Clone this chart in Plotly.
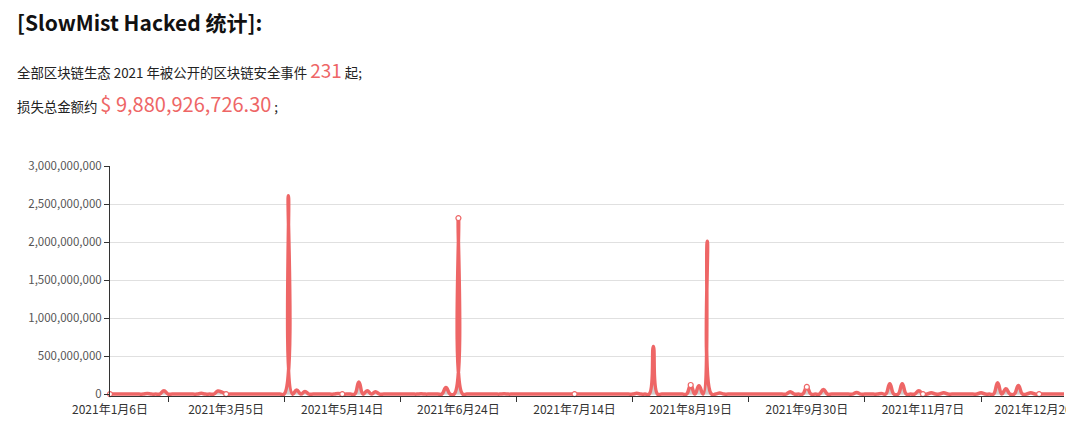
import plotly.graph_objects as go

# ---------------- data ----------------
# Loss per publicly disclosed event, in millions of USD, in event order (231 events)
loss_musd = [
    0, 0, 0, 0, 0, 0, 0, 0, 0, 8, 0, 0, 0, 45,
    0, 0, 0, 0, 0, 0, 0, 0, 10, 0, 0, 0, 40, 25,
    0, 0, 0, 0, 0, 0, 0, 0, 0, 0, 0, 0, 0, 0,
    0, 2610, 0, 55, 0, 35, 0, 0, 0, 0, 0, 0, 0, 8,
    0, 0, 0, 0, 160, 0, 45, 0, 30, 0, 0, 0, 0, 0,
    0, 0, 0, 0, 0, 5, 0, 0, 0, 0, 0, 87, 0, 0,
    2315, 0, 0, 0, 0, 0, 0, 0, 0, 0, 0, 5, 0, 0,
    0, 0, 0, 0, 0, 0, 0, 0, 0, 0, 0, 0, 0, 0,
    0, 0, 0, 0, 0, 0, 0, 0, 0, 0, 0, 0, 0, 0,
    0, 10, 0, 0, 0, 625, 0, 0, 0, 0, 0, 0, 0, 0,
    120, 0, 110, 0, 2010, 0, 0, 15, 0, 0, 0, 0, 0, 0,
    0, 0, 0, 0, 0, 0, 0, 0, 0, 0, 30, 0, 0, 0,
    95, 0, 0, 0, 60, 0, 0, 0, 0, 0, 0, 0, 20, 0,
    0, 0, 0, 0, 8, 0, 135, 0, 0, 135, 0, 0, 0, 45,
    0, 0, 18, 0, 0, 18, 0, 0, 0, 0, 0, 0, 0, 0,
    18, 0, 0, 0, 150, 0, 70, 0, 0, 113, 0, 0, 18, 0,
    0, 0, 0, 0, 0, 0, 0,
]
# Category positions that carry an axis label (every 28th event)
label_index = [0, 28, 56, 84, 112, 140, 168, 196, 224]
label_dates = ["2021年1月6日", "2021年3月5日", "2021年5月14日", "2021年6月24日",
               "2021年7月14日", "2021年8月19日", "2021年9月30日", "2021年11月7日",
               "2021年12月20日"]
tick_between = [14, 42, 70, 98, 126, 154, 182, 210]
y_ticks = [0, 500_000_000, 1_000_000_000, 1_500_000_000,
           2_000_000_000, 2_500_000_000, 3_000_000_000]

event_count = "231"
total_loss = "$ 9,880,926,726.30"

# ---------------- derived ----------------
x_idx = list(range(len(loss_musd)))
loss_usd = [v * 1e6 for v in loss_musd]
marker_y = [loss_usd[i] for i in label_index]

RED = "#ee6666"
FONT = "Noto Sans CJK SC, Noto Sans, sans-serif"

W, H = 1066, 432
L, R, T, B = 110, 2, 166, 36
pw, ph = W - L - R, H - T - B


def px(xp):
    return (xp - L) / pw


def py(yp):
    return (H - B - yp) / ph


fig = go.Figure()
fig.add_trace(go.Scatter(
    x=x_idx, y=loss_usd, mode="lines",
    line=dict(color=RED, width=3.5, shape="spline", smoothing=1.3),
    fill="tozeroy", fillcolor="rgba(150,150,150,0.45)",
    hoverinfo="skip", showlegend=False,
))
fig.add_trace(go.Scatter(
    x=label_index, y=marker_y, mode="markers",
    marker=dict(symbol="circle", size=5, color="white",
                line=dict(color=RED, width=1.2)),
    cliponaxis=False, hoverinfo="skip", showlegend=False,
))

fig.update_layout(
    width=W, height=H,
    margin=dict(l=L, r=R, t=T, b=B, pad=0, autoexpand=False),
    paper_bgcolor="white", plot_bgcolor="white",
    font=dict(family=FONT, size=12, color="#333"),
    showlegend=False,
    xaxis=dict(
        range=[0, len(loss_musd) - 1], automargin=False,
        tickmode="array", tickvals=label_index, ticktext=label_dates,
        ticks="", showgrid=False, zeroline=False,
        showline=True, linecolor="#333", linewidth=1,
        tickfont=dict(size=12, color="#333"),
        ticklabeloverflow="allow", ticklabelstandoff=3,
        minor=dict(tickmode="array", tickvals=tick_between, ticks="outside",
                   ticklen=5, tickcolor="#333", tickwidth=1, showgrid=False),
    ),
    yaxis=dict(
        range=[-25_000_000, 3_000_000_000], automargin=False,
        tickmode="array", tickvals=y_ticks, tickformat=",d",
        ticks="outside", ticklen=5, tickcolor="#333",
        showline=True, linecolor="#333", linewidth=1,
        showgrid=True, gridcolor="#e0e0e0", gridwidth=1,
        zeroline=False,
        tickfont=dict(size=11.5, color="#555"),
    ),
)

fig.add_annotation(
    xref="paper", yref="paper", x=px(15), y=py(22),
    xanchor="left", yanchor="middle", showarrow=False,
    text="<b>[SlowMist Hacked 统计]:</b>",
    font=dict(family=FONT, size=21, color="#111"),
)
fig.add_annotation(
    xref="paper", yref="paper", x=px(15), y=py(70),
    xanchor="left", yanchor="middle", showarrow=False,
    text=("全部区块链生态 2021 年被公开的区块链安全事件 "
          f"<span style='font-size:19px;color:{RED}'>{event_count}</span> 起;"),
    font=dict(family=FONT, size=13.4, color="#222"),
)
fig.add_annotation(
    xref="paper", yref="paper", x=px(15), y=py(103),
    xanchor="left", yanchor="middle", showarrow=False,
    text=(f"损失总金额约 <span style='font-size:20px;color:{RED}'>{total_loss}</span> ;"),
    font=dict(family=FONT, size=13.4, color="#222"),
)

fig.write_html("out.html",
               config={"displayModeBar": False},
               post_script="document.body.style.margin='0';document.body.style.overflow='hidden';")
